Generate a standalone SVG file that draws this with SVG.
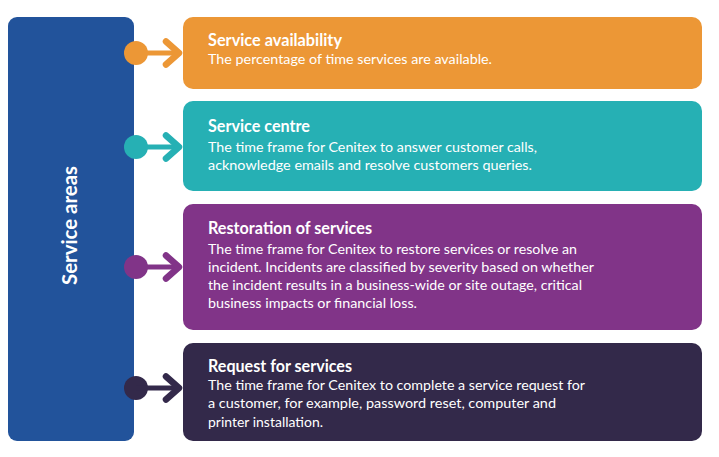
<svg xmlns="http://www.w3.org/2000/svg" width="719" height="457" viewBox="0 0 719 457">
<style>
.t{font-family:Lato,"Open Sans","Liberation Sans",sans-serif;font-weight:bold;font-size:16.5px;fill:#fff}
.d{font-family:Lato,"Open Sans","Liberation Sans",sans-serif;font-size:14px;fill:#fff}
.c{fill:none;stroke-width:6.5;stroke-linecap:round;stroke-linejoin:round}
</style>
<rect width="719" height="457" fill="#fff"/>
<g id="service-areas">
<rect x="8" y="17" width="126" height="424" rx="9" fill="#22539B"/>
<text x="0" y="0" transform="translate(77,225.5) rotate(-90)" text-anchor="middle" font-family="Lato,'Open Sans','Liberation Sans',sans-serif" font-weight="bold" font-size="20" fill="#fff" textLength="119" lengthAdjust="spacingAndGlyphs">Service areas</text>
</g>
<g id="service-availability">
<rect x="183" y="17" width="519" height="72" rx="10" fill="#EC9736"/>
<text class="t" x="208" y="45.5" textLength="134" lengthAdjust="spacingAndGlyphs">Service availability</text>
<text class="d" x="208" y="64" textLength="284" lengthAdjust="spacingAndGlyphs">The percentage of time services are available.</text>
</g>
<g id="service-centre">
<rect x="183" y="101" width="519" height="90" rx="10" fill="#26B0B4"/>
<text class="t" x="208" y="131.5" textLength="102" lengthAdjust="spacingAndGlyphs">Service centre</text>
<text class="d" x="208" y="151.5" textLength="329" lengthAdjust="spacingAndGlyphs">The time frame for Cenitex to answer customer calls,</text>
<text class="d" x="208" y="170" textLength="324" lengthAdjust="spacingAndGlyphs">acknowledge emails and resolve customers queries.</text>
</g>
<g id="restoration-of-services">
<rect x="183" y="204" width="519" height="126" rx="10" fill="#813488"/>
<text class="t" x="208" y="233.5" textLength="164" lengthAdjust="spacingAndGlyphs">Restoration of services</text>
<text class="d" x="208" y="254.3" textLength="369" lengthAdjust="spacingAndGlyphs">The time frame for Cenitex to restore services or resolve an</text>
<text class="d" x="208" y="272.3" textLength="386" lengthAdjust="spacingAndGlyphs">incident. Incidents are classified by severity based on whether</text>
<text class="d" x="208" y="290.3" textLength="374" lengthAdjust="spacingAndGlyphs">the incident results in a business-wide or site outage, critical</text>
<text class="d" x="208" y="308.3" textLength="209" lengthAdjust="spacingAndGlyphs">business impacts or financial loss.</text>
</g>
<g id="request-for-services">
<rect x="183" y="343" width="519" height="98" rx="10" fill="#33294A"/>
<text class="t" x="208" y="371.7" textLength="144" lengthAdjust="spacingAndGlyphs">Request for services</text>
<text class="d" x="208" y="390" textLength="377" lengthAdjust="spacingAndGlyphs">The time frame for Cenitex to complete a service request for</text>
<text class="d" x="208" y="408.3" textLength="348" lengthAdjust="spacingAndGlyphs">a customer, for example, password reset, computer and</text>
<text class="d" x="208" y="426.7" textLength="115" lengthAdjust="spacingAndGlyphs">printer installation.</text>
</g>
<g id="connectors">
<g stroke="#EC9736" fill="#EC9736">
<circle cx="136" cy="53" r="12" stroke="none"/>
<line x1="136" y1="53" x2="178" y2="53" stroke-width="5"/>
<path class="c" d="M166,41.5 L179,53 L166,64.5"/>
</g>
<g stroke="#26B0B4" fill="#26B0B4">
<circle cx="136" cy="147" r="12" stroke="none"/>
<line x1="136" y1="147" x2="178" y2="147" stroke-width="5"/>
<path class="c" d="M166,135.5 L179,147 L166,158.5"/>
</g>
<g stroke="#813488" fill="#813488">
<circle cx="136" cy="267" r="12" stroke="none"/>
<line x1="136" y1="267" x2="178" y2="267" stroke-width="5"/>
<path class="c" d="M166,255.5 L179,267 L166,278.5"/>
</g>
<g stroke="#33294A" fill="#33294A">
<circle cx="136" cy="388" r="12" stroke="none"/>
<line x1="136" y1="388" x2="178" y2="388" stroke-width="5"/>
<path class="c" d="M166,376.5 L179,388 L166,399.5"/>
</g>
</g>
</svg>
